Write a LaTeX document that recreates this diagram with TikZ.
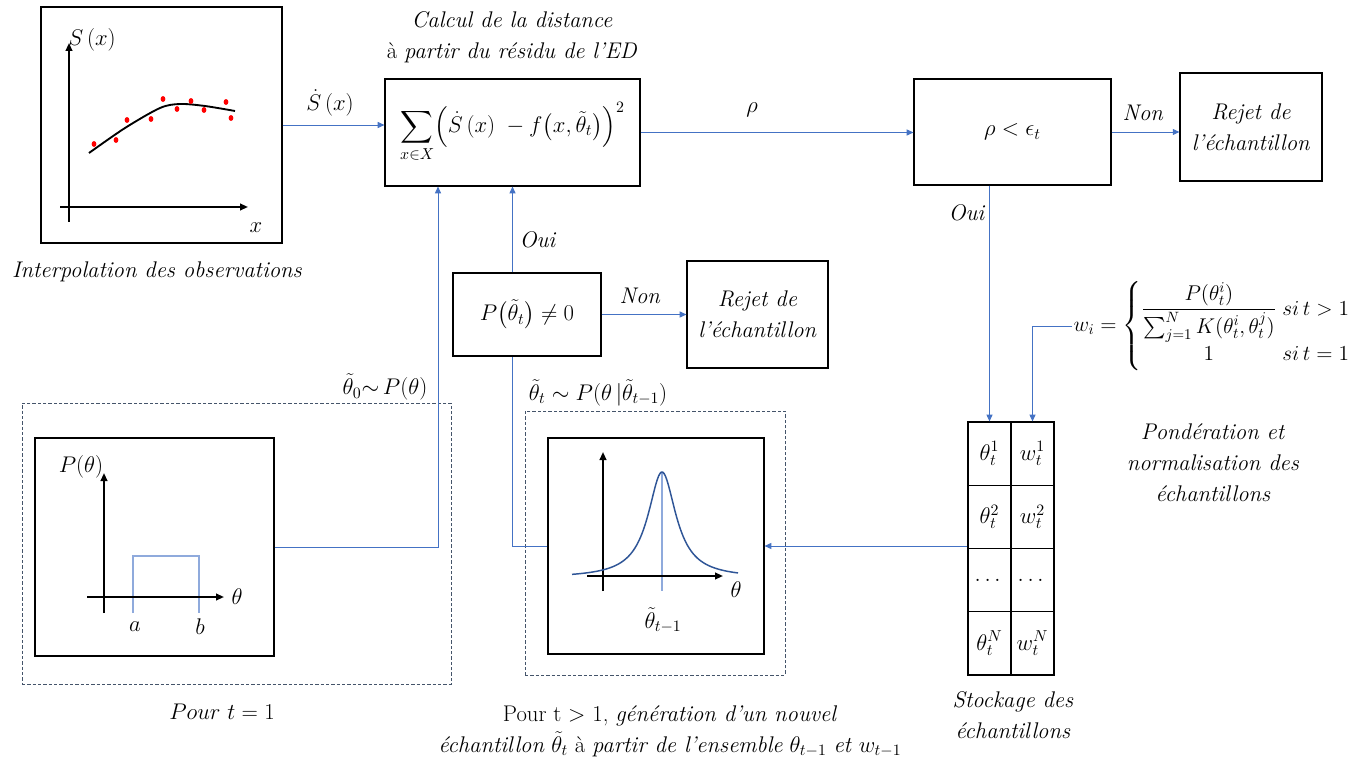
\RequirePackage{fix-cm}
\documentclass[tikz,border=0pt]{standalone}
\usepackage{amsmath,amssymb}
\usetikzlibrary{arrows.meta}
\definecolor{ablue}{RGB}{68,114,196}
\definecolor{lblue}{RGB}{143,170,220}
\definecolor{dslate}{RGB}{68,84,106}
\definecolor{gblue}{RGB}{47,85,151}
\tikzset{
  box/.style={draw=black, line width=0.9pt, inner sep=2pt, align=center},
  cell/.style={draw=black, line width=0.9pt, minimum width=32.25pt, minimum height=47.44pt, inner sep=0pt},
  conn/.style={draw=ablue, line width=0.6pt},
  arr/.style={conn, -{Triangle[length=5pt,width=4.5pt]}},
  dbox/.style={draw=dslate, dash pattern=on 2.5pt off 1.5pt, line width=0.6pt},
  axis/.style={line width=1.4pt, -{Triangle[length=6pt,width=5pt]}},
  lbl/.style={align=center}
}
\begin{document}
\begin{tikzpicture}[x=0.75pt,y=-0.75pt, every node/.style={font=\fontsize{17}{23.25}\selectfont}]
\fill[white] (0,0) rectangle (1369,766);
\useasboundingbox (0,0) rectangle (1369,766);

% ---- plot 1 : interpolation
\node[box, minimum width=180.75pt, minimum height=177pt] (plot1) at (161.5,125) {};
\draw[axis] (69,222) -- (69,43);
\draw[axis] (60,207) -- (248,207);
\node (slab) at (92,40) {$S\,(x)$};
\node (xlab) at (256,228) {$x$};
\draw[line width=1.4pt] plot[smooth] coordinates {(89,153) (125,128) (160,108) (180,104) (205,106) (235,111)};
\foreach \p in {(94,144),(116,140),(127,120),(151,119),(163,99),(177,109),(191,101),(204,110),(226,102),(231,118)}
  \fill[red] \p ellipse (1.8pt and 2.2pt);
\node[lbl] (cap1) at (157,272) {\textit{Interpolation des observations}};

% ---- distance box
\node[lbl] (eqtitle) at (512,37) {\textit{Calcul de la distance}\\à \textit{partir du résidu de l'ED}};
\node[box, minimum width=191.25pt, minimum height=80.25pt] (eq) at (512.5,132.5)
  {$\displaystyle\sum_{x\in X}\Bigl(\dot S\,(x)\;-f\bigl(x,\tilde\theta_t\bigr)\Bigr)^2$};

% ---- threshold
\node[box, minimum width=147.75pt, minimum height=79.5pt] (rho) at (1012.5,132) {$\rho<\epsilon_t$};
\node[box, minimum width=106.5pt, minimum height=81pt] (rej1) at (1251,127) {\textit{Rejet de}\\\textit{l'échantillon}};

% ---- prior test
\node[box, minimum width=111pt, minimum height=62.25pt] (pbox) at (527,314.5) {$P\bigl(\tilde\theta_t\bigr)\neq0$};
\node[box, minimum width=105.75pt, minimum height=80.25pt] (rej2) at (757.5,314.5) {\textit{Rejet de}\\\textit{l'échantillon}};

% ---- dashed groups
\node[dbox, minimum width=321.75pt, minimum height=210.75pt] (d1) at (236.5,543.5) {};
\node[dbox, minimum width=195pt, minimum height=198pt] (d2) at (655,543) {};

% ---- plot 2 : uniform prior
\node[box, minimum width=179.25pt, minimum height=163.5pt] (plot2) at (154.5,547) {};
\draw[lblue, line width=0.8pt] (133,613) -- (133,556) -- (199,556) -- (199,613);
\draw[axis] (104,613) -- (104,473);
\draw[axis] (87,597) -- (224,597);
\node (plab) at (81,467) {$P(\theta)$};
\node (th2) at (237,597) {$\theta$};
\node (alab) at (135,627) {$a$};
\node (blab) at (200,627) {$b$};
\node[lbl] (cap2) at (222,712) {$Pour\ t=1$};

% ---- plot 3 : kernel
\node[box, minimum width=162pt, minimum height=162pt] (plot3) at (656,546) {};
\draw[lblue, line width=0.8pt] (662,472) -- (662,591);
\draw[axis] (603,591) -- (603,452);
\draw[axis] (587,576) -- (723,576);
\draw[gblue, line width=1.1pt] plot[domain=572:738, samples=120] (\x,{578-106/(1+((\x-662)/17)^2)});
\node (th3) at (736,590) {$\theta$};
\node (thm) at (663,620) {$\tilde\theta_{t-1}$};
\node[lbl] (cap3) at (670,731) {Pour t $>$ 1, \textit{génération d'un nouvel}\\\textit{échantillon} $\tilde\theta_t$ à \textit{partir de l'ensemble} $\theta_{t-1}$ \textit{et} $w_{t-1}$};

% ---- table
\node[cell] (c11) at (989.5,453.6) {$\theta_t^1$};
\node[cell] (c12) at (1032.5,453.6) {$w_t^1$};
\node[cell] (c21) at (989.5,516.9) {$\theta_t^2$};
\node[cell] (c22) at (1032.5,516.9) {$w_t^2$};
\node[cell] (c31) at (989.5,580.1) {$\dots$};
\node[cell] (c32) at (1032.5,580.1) {$\dots$};
\node[cell] (c41) at (989.5,643.4) {$\theta_t^N$};
\node[cell] (c42) at (1032.5,643.4) {$w_t^N$};
\node[lbl] (cap5) at (1013,715.5) {\textit{Stockage des}\\\textit{échantillons}};

% ---- weights
\node[anchor=west, inner sep=1pt, font=\fontsize{16}{20}\selectfont] (wf) at (1072,326)
  {$w_i=\left\{\begin{array}{@{}c@{\;}l@{}}\dfrac{P(\theta_t^i)}{\sum_{j=1}^{N}K(\theta_t^i,\theta_t^j)} & si\,t>1\\[4pt] 1 & si\,t=1\end{array}\right.$};
\node[lbl] (cap4) at (1213,463) {\textit{Pondération et}\\\textit{normalisation des}\\\textit{échantillons}};

% ---- connectors
\coordinate (j0) at (438,186);
\draw[arr] (plot1.east) -- (plot1.east -| eq.west);
\node (sdot) at (330,103) {$\dot S\,(x)$};
\draw[arr] (eq.east) -- (eq.east -| rho.west);
\node (rholab) at (752,110) {$\rho$};
\draw[arr] (rho.east) -- (rho.east -| rej1.west);
\node (non1) at (1143,113) {\textit{Non}};
\draw[arr] (rho.south -| c11.north) -- (c11.north);
\node (oui1) at (967,213) {\textit{Oui}};
\draw[arr] (wf.west) -| (c12.north);
\draw[arr] (plot3.east -| c11.west) -- (plot3.east);
\draw[conn] (plot3.west) -| (eq.south |- pbox.south);
\draw[arr] (eq.south |- pbox.north) -- (eq.south);
\node (oui2) at (538,240) {\textit{Oui}};
\draw[arr] (pbox.east) -- (rej2.west);
\node (non2) at (640,296) {\textit{Non}};
\draw[arr] (plot2.east) -| (j0 |- eq.south);
\node (th0) at (385,387) {$\tilde\theta_0{\sim}\,P(\theta)$};
\node (thk) at (598,393) {$\tilde\theta_t\sim P(\theta\,|\tilde\theta_{t-1})$};
\end{tikzpicture}
\end{document}
